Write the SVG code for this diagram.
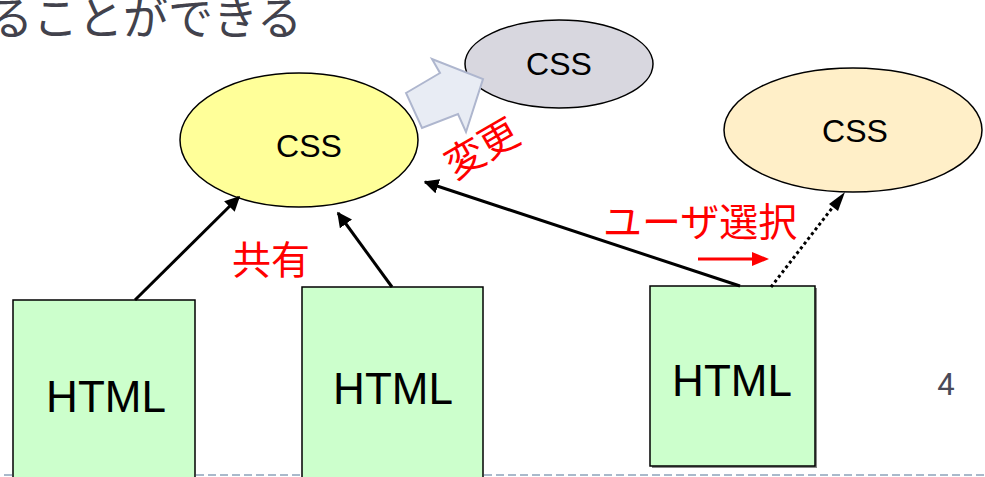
<svg xmlns="http://www.w3.org/2000/svg" width="985" height="477" viewBox="0 0 985 477">
<style>
.node-e{stroke:#000;stroke-width:1.5}
.css{font-family:"Liberation Sans",Arial,sans-serif;font-size:32px;fill:#000;text-anchor:middle}
.box{fill:#CCFFCC;stroke:#000;stroke-width:1.5}
.html{font-family:"Liberation Sans",Arial,sans-serif;font-size:44px;fill:#000;text-anchor:middle}
.red{font-family:"Noto Sans CJK JP","Noto Sans",sans-serif;fill:#FF0000;font-size:39px}
.conn{stroke:#000;stroke-width:3;fill:none}
</style>
<defs>
<marker id="ah" viewBox="0 0 10 10" refX="9" refY="5" markerWidth="5" markerHeight="5" orient="auto" markerUnits="strokeWidth">
<path d="M0,0 L10,5 L0,10 z" fill="#000"/>
</marker>
</defs>
<rect width="985" height="477" fill="#fff"/>
<text x="-12" y="35" font-family="'Noto Sans CJK JP',sans-serif" font-size="45" fill="#42424C">ることができる</text>
<line x1="4" y1="475" x2="985" y2="475" stroke="#A9B9CB" stroke-width="2" stroke-dasharray="8,4"/>
<g id="css-main"><ellipse class="node-e" cx="299" cy="140" rx="119" ry="67" fill="#FFFF99"/><text class="css" x="309" y="157">CSS</text></g>
<g id="css-changed"><ellipse class="node-e" cx="559" cy="64" rx="94" ry="44" fill="#D8D7DF"/><text class="css" x="559" y="75">CSS</text></g>
<g id="css-user"><ellipse class="node-e" cx="853" cy="130" rx="129" ry="62" fill="#FFEFC8"/><text class="css" x="855" y="142">CSS</text></g>
<g id="change-arrow"><polygon points="406,93 440,73 432,59 483,79 466,132 458,114 422,128" fill="#E8ECF4" stroke="#AEB6CE" stroke-width="2"/></g>
<g id="html1"><rect class="box" x="13" y="300" width="182" height="180"/><text class="html" x="106" y="412">HTML</text></g>
<g id="html2"><rect class="box" x="302" y="287" width="181" height="193"/><text class="html" x="393" y="404">HTML</text></g>
<g id="html3"><rect x="652" y="288" width="165" height="180" fill="#888"/><rect class="box" x="650" y="286" width="165" height="180"/><text class="html" x="732" y="396">HTML</text></g>
<g id="connectors">
<line class="conn" x1="135" y1="300" x2="239" y2="197" marker-end="url(#ah)"/>
<line class="conn" x1="392" y1="287" x2="338" y2="213" marker-end="url(#ah)"/>
<line class="conn" x1="740" y1="286" x2="425" y2="182" marker-end="url(#ah)"/>
<line x1="771" y1="287" x2="836" y2="203" stroke="#000" stroke-width="3" stroke-dasharray="3,3"/>
<polygon points="845,192 838,211 829,204" fill="#000"/>
</g>
<text class="red" x="0" y="0" transform="translate(455,180) rotate(-30)">変更</text>
<text class="red" x="232" y="274">共有</text>
<text class="red" x="603" y="236">ユーザ選択</text>
<line x1="698" y1="259" x2="756" y2="259" stroke="#FF0000" stroke-width="3"/>
<polygon points="769,259 752,252 752,266" fill="#FF0000"/>
<text x="946" y="395" font-family="Roboto,'Liberation Sans',sans-serif" font-size="31" fill="#4A4A58" text-anchor="middle">4</text>
</svg>
